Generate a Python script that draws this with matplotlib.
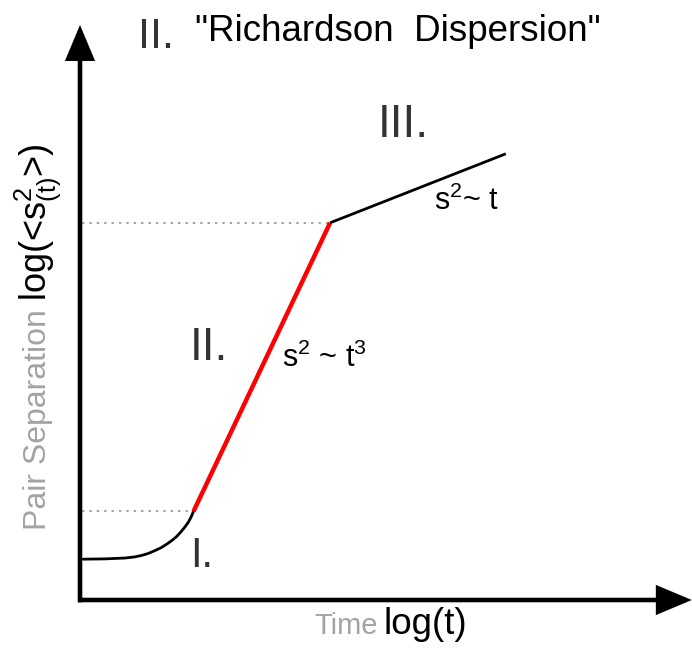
import matplotlib
matplotlib.use("Agg")
import matplotlib.pyplot as plt

plt.rcParams["font.family"] = ["Liberation Sans", "DejaVu Sans"]
plt.rcParams["mathtext.fontset"] = "custom"
plt.rcParams["mathtext.rm"] = "Liberation Sans"
plt.rcParams["mathtext.default"] = "regular"

# Regime I: ballistic onset (log t, log <s^2>)
onset_log_t = [0.05, 0.40, 0.74, 0.90, 1.01, 1.12, 1.22, 1.33, 1.42,
               1.50, 1.58, 1.65, 1.72, 1.78, 1.82, 1.86]
onset_log_s2 = [0.71, 0.715, 0.73, 0.75, 0.775, 0.81, 0.855, 0.91, 0.97,
                1.03, 1.10, 1.18, 1.27, 1.36, 1.44, 1.54]

# Regime II: Richardson t^3 scaling
richardson_log_t = [1.86, 4.10]
richardson_log_s2 = [1.54, 6.56]

# Regime III: diffusive s^2 ~ t
diffusive_log_t = [4.10, 6.98]
diffusive_log_s2 = [6.56, 7.76]

# Guide levels at the regime transitions
guide_levels = [1.54, 6.56]
guide_ends = [1.86, 4.10]

axis_end = 10.03
dark = "#333333"
grey = "#a3a3a3"

fig = plt.figure(figsize=(6.92, 6.51), dpi=100)
ax = fig.add_axes([0, 0, 1, 1])
ax.set_xlim(-80 / 61, 612 / 61)
ax.set_ylim(-51 / 57.5, 600 / 57.5)
ax.axis("off")

# axes drawn as arrows
arrow_kw = dict(arrowstyle="-|>,head_length=1.0,head_width=0.42", color="black",
                lw=3.3, shrinkA=0, shrinkB=0, mutation_scale=20,
                capstyle="butt", joinstyle="miter")
ax.annotate("", xy=(axis_end, 0), xytext=(-0.03, 0), arrowprops=arrow_kw)
ax.annotate("", xy=(0, 10.0), xytext=(0, -0.04), arrowprops=arrow_kw)

# dotted guides
for lvl, end in zip(guide_levels, guide_ends):
    ax.plot([0.04, end], [lvl, lvl], color="#a0a0a0", lw=1.4,
            linestyle=(0, (1.2, 2.6)), solid_capstyle="butt")

ax.plot(onset_log_t, onset_log_s2, color="black", lw=2.0,
        solid_capstyle="round", solid_joinstyle="round")
ax.plot(richardson_log_t, richardson_log_s2, color="#ff0000", lw=3.2,
        solid_capstyle="butt")
ax.plot(diffusive_log_t, diffusive_log_s2, color="black", lw=2.0,
        solid_capstyle="butt")

# regime labels
ax.text(0.95, 9.60, "II.", fontsize=31, color=dark, ha="left", va="baseline")
ax.text(1.89, 9.72, '"Richardson  Dispersion"', fontsize=26.5, color="black",
        ha="left", va="baseline")
ax.text(1.80, 4.18, "II.", fontsize=33, color=dark, ha="left", va="baseline")
ax.text(4.88, 8.06, "III.", fontsize=33, color=dark, ha="left", va="baseline")
ax.text(1.80, 0.57, "I.", fontsize=30, color=dark, ha="left", va="baseline")

# scaling laws
ax.text(3.31, 4.05, "s$^2$ ~ t$^3$", fontsize=22, color="black",
        ha="left", va="baseline")
ax.text(5.80, 6.78, "s$^2$~ t", fontsize=22, color="black",
        ha="left", va="baseline")

# axis titles
ax.text(3.85, -0.59, "Time", fontsize=21, color=grey, ha="left", va="baseline")
ax.text(4.97, -0.59, "log(t)", fontsize=26.5, color="black", ha="left", va="baseline")
ax.text(-0.55, 1.22, "Pair Separation", fontsize=23, color=grey, rotation=90,
        rotation_mode="anchor", ha="left", va="baseline")
ax.text(-0.55, 5.20, r"log(<s$^{2}_{(t)}$>)", fontsize=26, color="black",
        rotation=90, rotation_mode="anchor", ha="left", va="baseline")

fig.savefig("out.png", dpi=100)
